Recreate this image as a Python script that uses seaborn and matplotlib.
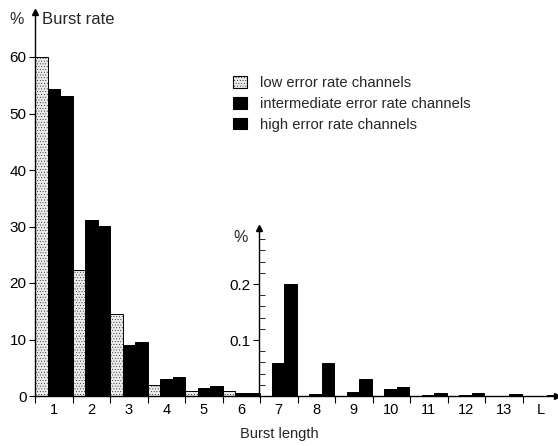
import matplotlib
matplotlib.use("Agg")
import matplotlib.pyplot as plt
import seaborn as sns
import pandas as pd
import numpy as np

# ---- data ----
types = ["low error rate channels", "intermediate error rate channels", "high error rate channels"]
cats_all = ["1", "2", "3", "4", "5", "6", "7", "8", "9", "10", "11", "12", "13", "L"]

cats_left = ["1", "2", "3", "4", "5", "6"]
low_left = [60.0, 22.3, 14.5, 2.0, 0.8, 0.8]
inter_left = [54.3, 31.2, 9.1, 3.0, 1.5, 0.6]
high_left = [53.1, 30.1, 9.5, 3.3, 1.8, 0.6]

cats_right = ["7", "8", "9", "10", "11", "12", "13", "L"]
low_right = [0.0, 0.0, 0.0, 0.0, 0.0, 0.0, 0.0, 0.0]
inter_right = [0.059, 0.004, 0.008, 0.013, 0.001, 0.001, 0.0, 0.0]
high_right = [0.200, 0.059, 0.030, 0.0155, 0.006, 0.006, 0.003, 0.001]

def long_df(cats, lo, mi, hi):
    rows = []
    for c, a, b, d in zip(cats, lo, mi, hi):
        rows.append((c, types[0], a))
        rows.append((c, types[1], b))
        rows.append((c, types[2], d))
    return pd.DataFrame(rows, columns=["length", "type", "rate"])

df_left = long_df(cats_left, low_left, inter_left, high_left)
df_right = long_df(cats_right, low_right, inter_right, high_right)

# ---- style ----
sns.set_theme(style="white")
plt.rcParams["font.family"] = ["Liberation Sans", "DejaVu Sans"]
plt.rcParams["hatch.linewidth"] = 0.25

palette = {types[0]: "#ebebeb", types[1]: "black", types[2]: "black"}

W, H = 558, 446
fig = plt.figure(figsize=(W / 100, H / 100), dpi=100)

x0, base_y = 35, 396
grp = 37.5
xend = 557
n_span = (xend - x0) / grp
ax1 = fig.add_axes([x0 / W, (H - base_y) / H, (xend - x0) / W, (base_y - 12) / H])
y_top1 = (base_y - 12) / 5.65

sns.barplot(data=df_left, x="length", y="rate", hue="type", order=cats_all,
            hue_order=types, palette=palette, width=1.0, gap=0, dodge=True,
            edgecolor="black", linewidth=0.7, saturation=1, ax=ax1, legend=False)
for p in ax1.containers[0]:
    p.set_hatch("......")

ax1.set_xlim(-0.5, -0.5 + n_span)
ax1.set_ylim(0, y_top1)
ax1.set_xlabel("")
ax1.set_ylabel("")
for s in ["top", "right"]:
    ax1.spines[s].set_visible(False)
for s in ["left", "bottom"]:
    ax1.spines[s].set_color("black")
    ax1.spines[s].set_linewidth(1.0)

ax1.set_xticks(range(len(cats_all)))
ax1.set_xticklabels(cats_all, fontsize=10.5)
ax1.set_xticks(np.arange(-0.5, len(cats_all) - 1, 1.0), minor=True)
ax1.tick_params(axis="x", which="major", length=0, pad=5, colors="black")
ax1.tick_params(axis="x", which="minor", bottom=True, length=5, width=0.8, direction="out", color="black")

ax1.set_yticks([0, 10, 20, 30, 40, 50, 60])
ax1.set_yticks(np.arange(0, 62, 2), minor=True)
ax1.tick_params(axis="y", which="major", left=True, length=4, width=0.8, direction="out", pad=2,
                labelsize=11, colors="black")
ax1.tick_params(axis="y", which="minor", left=True, length=4, width=0.6, direction="in", color="black")

ax1.plot(0, 1, marker="^", color="black", markersize=5, transform=ax1.transAxes, clip_on=False)
ax1.plot(1, 0, marker=">", color="black", markersize=5, transform=ax1.transAxes, clip_on=False)

# ---- inset for long bursts ----
x2 = 259
top2 = 228
ax2 = fig.add_axes([x2 / W, (H - base_y) / H, (xend - x2) / W, (base_y - top2) / H])
ax2.patch.set_alpha(0)
sns.barplot(data=df_right, x="length", y="rate", hue="type", order=cats_right,
            hue_order=types, palette=palette, width=1.0, gap=0, dodge=True,
            edgecolor="black", linewidth=0.7, saturation=1, ax=ax2, legend=False)
for p in ax2.containers[0]:
    p.set_hatch("......")
ax2.set_xlim(-0.5, -0.5 + (xend - x2) / grp)
ax2.set_ylim(0, (base_y - top2) / 560.0)
ax2.set_xlabel("")
ax2.set_ylabel("")
for s in ["top", "right", "bottom"]:
    ax2.spines[s].set_visible(False)
ax2.spines["left"].set_color("black")
ax2.spines["left"].set_linewidth(1.0)
ax2.set_xticks([])
ax2.set_yticks([0.1, 0.2])
ax2.set_yticklabels(["0.1", "0.2"])
ax2.set_yticks(np.arange(0.02, 0.29, 0.02), minor=True)
ax2.tick_params(axis="y", which="major", left=True, length=4, width=0.8, direction="out", pad=2,
                labelsize=11, colors="black")
ax2.tick_params(axis="y", which="minor", left=True, length=4, width=0.6, direction="in", color="black")
ax2.plot(0, 1, marker="^", color="black", markersize=5, transform=ax2.transAxes, clip_on=False)

# ---- texts ----
fig.text(9 / W, 1 - 20 / H, "%", fontsize=11.5, va="center", ha="left")
fig.text(42 / W, 1 - 20 / H, "Burst rate", fontsize=12, va="center", ha="left")
fig.text(233 / W, 1 - 238 / H, "%", fontsize=11.5, va="center", ha="left")
fig.text(279 / W, 1 - 434 / H, "Burst length", fontsize=10.5, va="center", ha="center")

# ---- legend ----
handles = [plt.Rectangle((0, 0), 1, 1, facecolor=palette[t], edgecolor="black", linewidth=0.8,
                         hatch="......" if i == 0 else None) for i, t in enumerate(types)]
fig.legend(handles, types, loc="upper left", bbox_to_anchor=(223 / W, 1 - 66 / H),
           frameon=False, fontsize=10.6, handlelength=0.9, handleheight=0.85,
           handletextpad=0.9, labelspacing=0.45, borderpad=0.2)

fig.savefig("out.png", dpi=100)
